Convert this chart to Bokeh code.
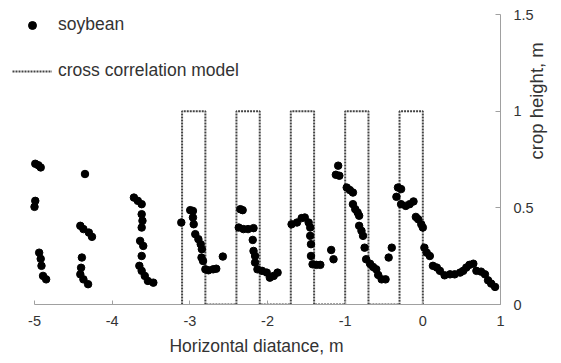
import math
from bokeh.plotting import figure
from bokeh.models import Legend, LegendItem, FixedTicker
from bokeh.embed import file_html
from bokeh.resources import INLINE

# ---- data ----
soy_x = [-4.99, -4.95, -4.92, -4.99, -5.0, -4.94, -4.92, -4.91, -4.89, -4.85,
         -4.35, -4.41, -4.37, -4.30, -4.26, -4.39, -4.40, -4.41, -4.37, -4.31,
         -3.72, -3.67, -3.62, -3.62, -3.61, -3.62, -3.64, -3.60, -3.62,
         -3.65, -3.62, -3.58, -3.54, -3.47,
         -3.11, -2.995, -2.96, -2.96, -2.95, -2.93, -2.89, -2.86, -2.845,
         -2.85, -2.83, -2.80, -2.76, -2.70, -2.66, -2.575,
         -2.35, -2.32, -2.37, -2.31, -2.25, -2.18, -2.19, -2.18, -2.16,
         -2.16, -2.13, -2.07, -2.01, -1.97, -1.92, -1.87,
         -1.69, -1.62, -1.56, -1.52, -1.47, -1.45, -1.45, -1.44,
         -1.44, -1.42, -1.37, -1.32, -1.18, -1.15,
         -1.09, -1.12, -1.075, -0.98, -0.94, -0.90, -0.90, -0.87, -0.84, -0.82,
         -0.82, -0.79, -0.77, -0.75, -0.73, -0.68, -0.64, -0.60, -0.575, -0.53, -0.48,
         -0.44, -0.40,
         -0.32, -0.28, -0.34, -0.28, -0.22, -0.17, -0.12,
         -0.09, -0.06, -0.02, 0.0, 0.02, 0.05, 0.09,
         0.13, 0.18, 0.22, 0.28, 0.35, 0.41, 0.48, 0.52, 0.56, 0.60, 0.65,
         0.69, 0.75, 0.80, 0.84, 0.88, 0.93]
soy_y = [0.728, 0.72, 0.709, 0.536, 0.505, 0.268, 0.236, 0.2, 0.148, 0.13,
         0.675, 0.407, 0.39, 0.372, 0.35, 0.243, 0.19, 0.156, 0.13, 0.105,
         0.553, 0.536, 0.519, 0.467, 0.433, 0.398, 0.329, 0.303, 0.251,
         0.2, 0.174, 0.148, 0.122, 0.113,
         0.424, 0.488, 0.484, 0.45, 0.415, 0.364, 0.338, 0.312, 0.286,
         0.243, 0.225, 0.182, 0.177, 0.182, 0.185, 0.248,
         0.493, 0.488, 0.398, 0.39, 0.39, 0.395, 0.334, 0.277, 0.251,
         0.217, 0.182, 0.174, 0.165, 0.139, 0.148, 0.165,
         0.415, 0.424, 0.447, 0.45, 0.424, 0.398, 0.355, 0.312,
         0.251, 0.208, 0.205, 0.205, 0.282, 0.234,
         0.718, 0.671, 0.666, 0.605, 0.592, 0.579, 0.519, 0.493, 0.476, 0.459,
         0.407, 0.381, 0.355, 0.294, 0.234, 0.211, 0.194, 0.182, 0.153, 0.13, 0.13,
         0.243, 0.294,
         0.605, 0.597, 0.557, 0.519, 0.51, 0.519, 0.533,
         0.453, 0.441, 0.415, 0.398, 0.294, 0.268, 0.251,
         0.2, 0.191, 0.174, 0.151, 0.156, 0.156, 0.165, 0.174, 0.191, 0.205, 0.211,
         0.174, 0.17, 0.156, 0.125, 0.108, 0.091]

model_x = [-3.1, -3.1, -2.8, -2.8, -2.4, -2.4, -2.1, -2.1, -1.7, -1.7,
           -1.4, -1.4, -1.0, -1.0, -0.7, -0.7, -0.3, -0.3, 0.0, 0.0]
model_y = [0, 1, 1, 0, 0, 1, 1, 0, 0, 1, 1, 0, 0, 1, 1, 0, 0, 1, 1, 0]

x_ticks = [-5, -4, -3, -2, -1, 0, 1]
x_tick_labels = ["-5", "-4", "-3", "-2", "-1", "0", "1"]
y_ticks = [0, 0.5, 1, 1.5]
y_tick_labels = ["0", "0.5", "1", "1.5"]

FONT = "Liberation Sans"
TXT = "#333333"
AX = "#a0a0a0"

# the frame starts a little left of x=-5 so that the legend (which reaches left of the
# axis start) is not clipped; the x axis line itself is bounded to [-5, 1]
p = figure(width=561, height=363, x_range=(-5.2833, 1), y_range=(0, 1.5),
           output_backend="svg", toolbar_location=None, y_axis_location="right",
           min_border_left=12, min_border_right=61, min_border_top=14, min_border_bottom=59)
p.grid.visible = False
p.outline_line_color = None
p.background_fill_color = "white"
p.border_fill_color = "white"

model_r = p.line(model_x, model_y, line_color="#444444", line_width=2, line_dash="2 1")
soy_r = p.scatter(soy_x, soy_y, marker="circle", size=7.5, fill_color="black", line_color="black")

xa = p.xaxis[0]
xa.bounds = (x_ticks[0], x_ticks[-1])
xa.ticker = FixedTicker(ticks=x_ticks)
xa.major_label_overrides = {t: l for t, l in zip(x_ticks, x_tick_labels)}
xa.minor_tick_line_color = None
xa.major_tick_in = 4
xa.major_tick_out = 0
xa.axis_line_color = AX
xa.major_tick_line_color = AX
xa.major_label_standoff = 11
xa.major_label_text_font = FONT
xa.major_label_text_font_size = "14.5px"
xa.major_label_text_color = TXT
xa.axis_label = "Horizontal diatance, m"
xa.axis_label_text_font = FONT
xa.axis_label_text_font_size = "17.5px"
xa.axis_label_text_font_style = "normal"
xa.axis_label_text_color = TXT
xa.axis_label_standoff = 7

ya = p.yaxis[0]
ya.ticker = FixedTicker(ticks=y_ticks)
ya.major_label_overrides = {t: l for t, l in zip(y_ticks, y_tick_labels)}
ya.minor_tick_line_color = None
ya.major_tick_in = 5
ya.major_tick_out = 0
ya.axis_line_color = AX
ya.major_tick_line_color = AX
ya.major_label_standoff = 13
ya.major_label_text_font = FONT
ya.major_label_text_font_size = "14.5px"
ya.major_label_text_color = TXT
ya.axis_label = "crop height, m"
ya.axis_label_text_font = FONT
ya.axis_label_text_font_size = "18.5px"
ya.axis_label_text_font_style = "normal"
ya.axis_label_text_color = TXT
ya.axis_label_text_baseline = "top"
ya.axis_label_standoff = 0
ya.axis_label_orientation = math.pi / 2

legend = Legend(items=[LegendItem(label="soybean", renderers=[soy_r]),
                       LegendItem(label="cross correlation model", renderers=[model_r])],
                location=(0, 223), orientation="vertical",
                glyph_width=40, glyph_height=20, label_height=20, label_standoff=6,
                spacing=25, padding=0, margin=0,
                border_line_color=None, background_fill_alpha=0,
                label_text_font=FONT, label_text_font_size="17.5px", label_text_color=TXT)
p.add_layout(legend, "center")

open("out.html", "w").write(file_html(p, INLINE))
